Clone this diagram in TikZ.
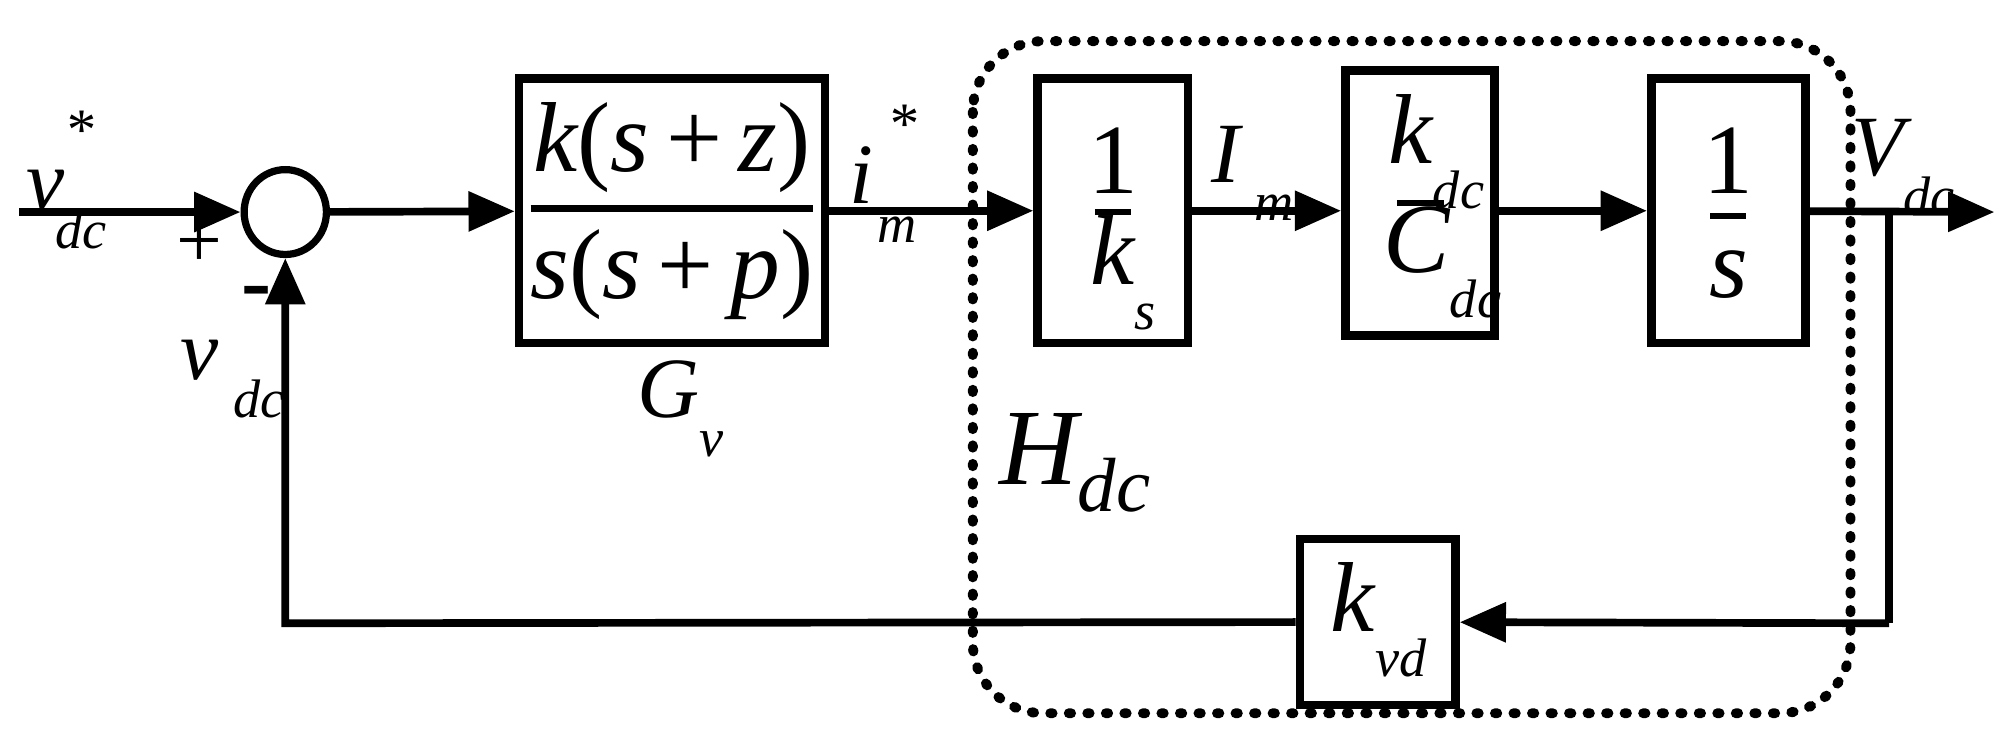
\documentclass[tikz,border=0pt]{standalone}
\usepackage{fontspec}
\setmainfont{Liberation Serif}
\usetikzlibrary{arrows.meta,shapes.geometric}
\newcommand{\sbs}[1]{\raisebox{-0.45em}{\fontsize{12}{13}\selectfont\itshape #1}}
\newcommand{\sps}[1]{\raisebox{0.7em}{\fontsize{13}{14}\selectfont #1}}
\begin{document}
\begin{tikzpicture}[x=0.01cm,y=-0.01cm,
  ln/.style={line width=1.7pt},
  arr/.style={ln,-{Triangle[length=0.36cm,width=0.3cm]}},
  blk/.style={draw,line width=1.9pt,inner sep=0pt},
  lab/.style={inner sep=0pt,font=\fontsize{19}{22}\selectfont\itshape},
  big/.style={inner sep=0pt,font=\fontsize{22}{24}\selectfont},
  frl/.style={line width=1.5pt}]
\useasboundingbox (0,0) rectangle (1568,584);
% blocks
\node[blk,minimum width=2.38cm,minimum height=2.06cm] (gv) at (523,164) {};
\node[blk,minimum width=1.17cm,minimum height=2.06cm] (ks) at (866,164) {};
\node[blk,minimum width=1.16cm,minimum height=2.06cm] (kdc) at (1105,158) {};
\node[blk,minimum width=1.20cm,minimum height=2.06cm] (si) at (1345,164) {};
\node[blk,minimum width=1.21cm,minimum height=1.29cm] (kvd) at (1072,484) {};
\node[draw,line width=1.6pt,ellipse,minimum width=0.64cm,minimum height=0.66cm,inner sep=0pt] (sum) at (222,165) {};
% contents
\node[big] (gvn) at (523,115) {\itshape k\upshape(\itshape s\upshape\,+\,\itshape z\upshape)};
\draw[frl] (413,162) -- (633,162);
\node[big] (gvd) at (523,214) {\itshape s\upshape(\itshape s\upshape\,+\,\itshape p\upshape)};
\node[big] (k1) at (866,125) {1};
\draw[frl] (852,165) -- (880,165);
\node[big,anchor=west] (k2) at (848,212) {\itshape k\sbs{s}};
\node[big,anchor=west] (c1) at (1080,118) {\itshape k\sbs{dc}};
\draw[frl] (1087,158) -- (1124,158);
\node[big,anchor=west] (c2) at (1076,204) {\itshape C\sbs{dc}};
\node[big] (s1) at (1345,125) {1};
\draw[frl] (1331,168) -- (1359,168);
\node[big] (s2) at (1345,214) {\itshape s};
\node[big,anchor=west] (kv) at (1035,482) {\itshape k\sbs{vd}};
% connectors
\coordinate (in) at (15,165);
\coordinate (br) at (1470,165);
\coordinate (out) at (1552,165);
\coordinate (bb) at (1470,485);
\coordinate (bl) at (222,485);
\draw[arr] (in) -- (sum);
\draw[arr] (sum) -- (gv);
\draw[arr] (gv) -- (ks);
\draw[arr] (ks) -- (kdc.west |- ks);
\draw[arr] (kdc.east |- ks) -- (si);
\draw[arr] (si) -- (out);
\draw[ln] (br) -- (bb);
\draw[arr] (bb) -- (kvd);
\draw[arr] (kvd) -- (bl) -- (sum);
% dashed region
\draw[line width=2.2pt,line cap=round,dash pattern=on 0.5pt off 3.6pt,rounded corners=0.55cm] (757,32) rectangle (1440,555);
% labels
\node[lab,anchor=west] at (20,140) {v\sps{*}\hspace{-0.45em}\sbs{dc}};
\node[inner sep=0pt,font=\fontsize{18}{20}\selectfont] at (155,190) {+};
\node[inner sep=0pt,font=\fontsize{20}{20}\selectfont\bfseries] at (200,233) {-};
\node[lab,anchor=west] at (140,295) {v\,\sbs{dc}};
\node[lab,anchor=west] at (495,318) {G\sbs{v}};
\node[lab,anchor=west] at (660,135) {i\,\sps{*}\hspace{-0.45em}\sbs{m}};
\node[lab,anchor=west] at (942,135) {I\,\sbs{m}};
\node[lab,anchor=west] at (1440,130) {V\sbs{dc}};
\node[inner sep=0pt,font=\fontsize{24}{26}\selectfont\itshape,anchor=west] at (777,360) {H\raisebox{-0.25em}{\fontsize{17}{18}\selectfont dc}};
\end{tikzpicture}
\end{document}
